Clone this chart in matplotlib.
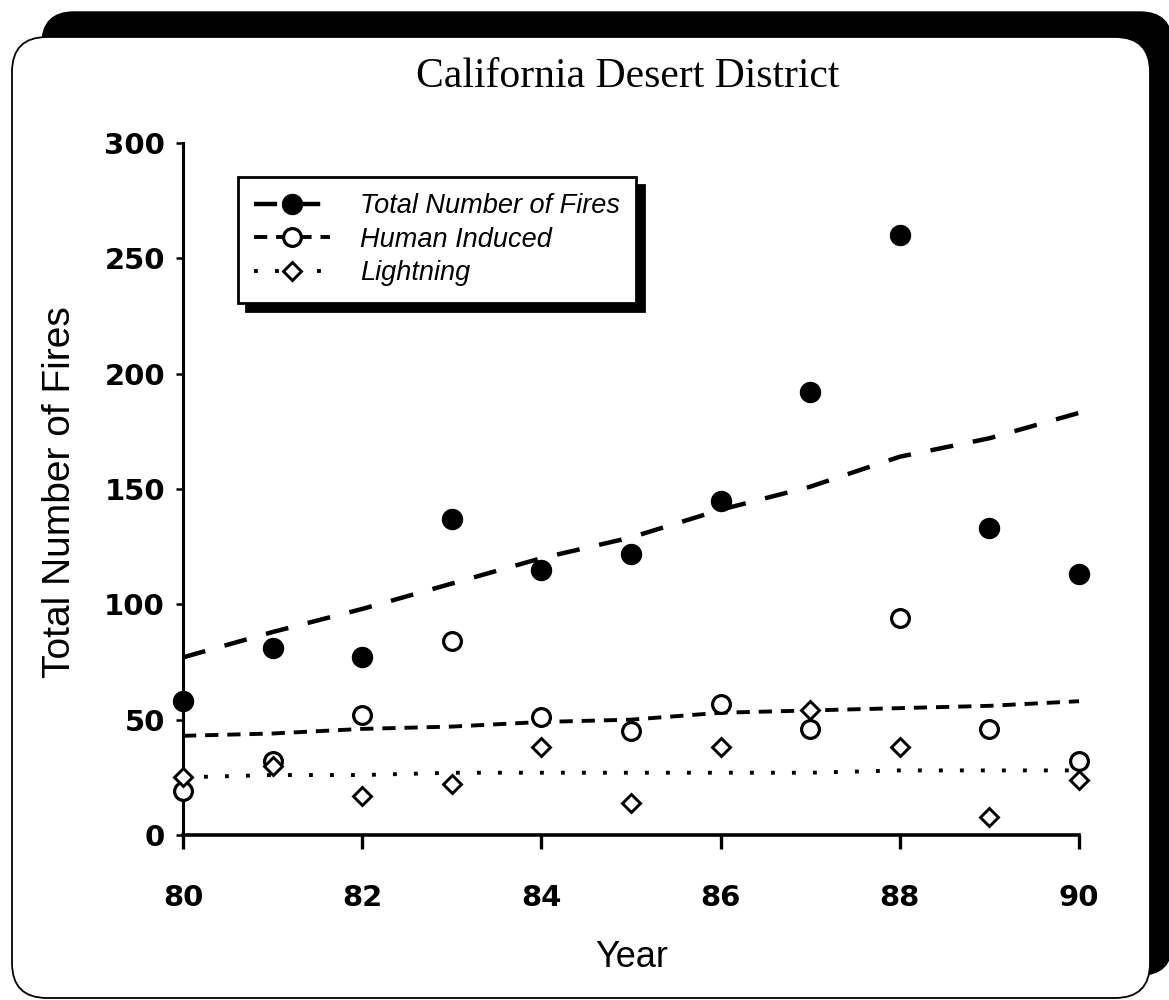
import matplotlib
matplotlib.use("Agg")
import matplotlib.pyplot as plt
from matplotlib.patches import FancyBboxPatch
from matplotlib.lines import Line2D

# ---- data ----
years = [80, 81, 82, 83, 84, 85, 86, 87, 88, 89, 90]
total_fires = [58, 81, 77, 137, 115, 122, 145, 192, 260, 133, 113]
human_induced = [19, 32, 52, 84, 51, 45, 57, 46, 94, 46, 32]
lightning = [25, 30, 17, 22, 38, 14, 38, 54, 38, 8, 24]
total_trend = [77, 88, 98, 109, 120, 129, 141, 151, 164, 172, 183]
human_trend = [43, 44, 46, 47, 49, 50, 53, 54, 55, 56, 58]
lightning_trend = [25, 26, 26, 27, 27, 27, 27, 27, 28, 28, 28]
x_ticks = [80, 82, 84, 86, 88, 90]
y_ticks = [0, 50, 100, 150, 200, 250, 300]
series_labels = ["Total Number of Fires", "Human Induced", "Lightning"]
title_text = "California Desert District"
x_label = "Year"
y_label = "Total Number of Fires"

W, H = 1169, 1000
fig = plt.figure(figsize=(W / 100, H / 100), dpi=100)
fig.patch.set_facecolor("white")

# ---- slide frame with black drop shadow ----
shadow = FancyBboxPatch((0.42, 0.25), 11.30, 9.63,
                        boxstyle="round,pad=0,rounding_size=0.32",
                        transform=fig.dpi_scale_trans, fc="black", ec="black",
                        zorder=-10)
panel = FancyBboxPatch((0.12, 0.02), 11.38, 9.61,
                       boxstyle="round,pad=0,rounding_size=0.35",
                       transform=fig.dpi_scale_trans, fc="white", ec="black",
                       lw=1.3, zorder=-9)
fig.patches.extend([shadow, panel])

# ---- axes ----
ax = fig.add_axes([183 / W, 1 - 835 / H, (1079 - 183) / W, (835 - 143) / H])
ax.patch.set_visible(False)
ax.set_xlim(80, 90)
ax.set_ylim(0, 300)

lw_tot, lw_hum, lw_lig = 3.2, 2.8, 2.8
ls_tot = (0, (5.2, 4.5))
ls_hum = (0, (3.4, 2.3))
ls_lig = (0, (1.0, 4.4))

ax.plot(years, total_trend, color="black", lw=lw_tot, ls=ls_tot, clip_on=False)
ax.plot(years, human_trend, color="black", lw=lw_hum, ls=ls_hum, clip_on=False)
ax.plot(years, lightning_trend, color="black", lw=lw_lig, ls=ls_lig, clip_on=False)

ms_tot, ms_hum, ms_lig = 14.4, 12.8, 9.0
ax.plot(years, total_fires, ls="none", marker="o", ms=ms_tot, mfc="black",
        mec="black", clip_on=False, zorder=5)
ax.plot(years, human_induced, ls="none", marker="o", ms=ms_hum, mfc="white",
        mec="black", mew=2.3, clip_on=False, zorder=5)
ax.plot(years, lightning, ls="none", marker="D", ms=ms_lig, mfc="white",
        mec="black", mew=2.1, clip_on=False, zorder=5)

for s in ("top", "right"):
    ax.spines[s].set_visible(False)
ax.spines["left"].set_linewidth(2.2)
ax.spines["bottom"].set_linewidth(2.6)

ax.set_xticks(x_ticks)
ax.set_yticks(y_ticks)
tick_font = dict(family="DejaVu Sans", weight="bold", size=21)
ax.set_xticklabels([str(v) for v in x_ticks], **tick_font)
ax.set_yticklabels([str(v) for v in y_ticks], **tick_font)
ax.tick_params(axis="x", length=10, width=2.4, pad=25, direction="out")
ax.tick_params(axis="y", length=5, width=1.8, pad=8, direction="out")

# ---- legend ----
handles = [
    Line2D([], [], color="black", lw=lw_tot, ls=ls_tot, marker="o", ms=ms_tot,
           mfc="black", mec="black"),
    Line2D([], [], color="black", lw=lw_hum, ls=ls_hum, marker="o", ms=ms_hum,
           mfc="white", mec="black", mew=2.3),
    Line2D([], [], color="black", lw=lw_lig, ls=ls_lig, marker="D", ms=ms_lig,
           mfc="white", mec="black", mew=2.1),
]
leg = ax.legend(handles, series_labels, loc="upper left",
                bbox_to_anchor=(238 / W, 1 - 177 / H),
                bbox_transform=fig.transFigure, borderaxespad=0,
                frameon=True, fancybox=False, framealpha=1,
                edgecolor="black", facecolor="white",
                prop=dict(family="Liberation Sans", style="italic", size=19.5),
                handlelength=2.8, handletextpad=1.1, labelspacing=0.28,
                borderpad=0.6, numpoints=1,
                shadow=dict(ox=6, oy=-6, facecolor="black",
                            edgecolor="black", alpha=1))
leg.get_frame().set_linewidth(2.0)

# ---- texts ----
fig.text(628 / W, 1 - 87 / H, title_text, ha="center", va="baseline",
         family="Liberation Serif", size=30)
fig.text(632 / W, 1 - 967 / H, x_label, ha="center", va="baseline",
         family="Liberation Sans", size=26)
fig.text(60 / W, 1 - 492 / H, y_label, ha="center", va="center",
         rotation=90, family="Liberation Sans", size=28)

fig.savefig("out.png", dpi=100)
